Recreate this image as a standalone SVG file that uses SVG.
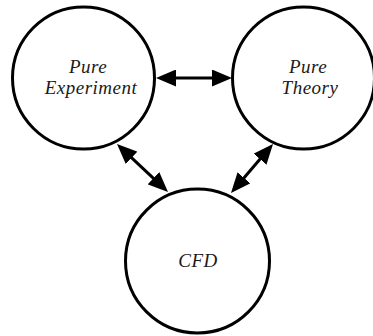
<svg xmlns="http://www.w3.org/2000/svg" width="373" height="336" viewBox="0 0 373 336">
  <style>
    .node circle { fill: #ffffff; stroke: #000000; stroke-width: 3; }
    .node text { font-family: "Liberation Serif", "Times New Roman", serif; font-style: italic; font-size: 19px; fill: #1a1a1a; text-anchor: middle; letter-spacing: 0.5px; }
    .conn line { stroke: #000000; stroke-width: 3; }
  </style>
  <defs>
    <marker id="ah" viewBox="0 0 20 17" markerWidth="20" markerHeight="17" refX="10" refY="8.5" markerUnits="userSpaceOnUse" orient="auto-start-reverse">
      <path d="M0,0 L20,8.5 L0,17 Z" fill="#000000"/>
    </marker>
  </defs>
  <rect width="373" height="336" fill="#ffffff"/>
  <g id="n-experiment" class="node">
    <circle cx="83.5" cy="78" r="71"/>
    <text x="88" y="73">Pure</text>
    <text x="91" y="94">Experiment</text>
  </g>
  <g id="n-theory" class="node">
    <circle cx="303.5" cy="78" r="71"/>
    <text x="308" y="73">Pure</text>
    <text x="310" y="94">Theory</text>
  </g>
  <g id="n-cfd" class="node">
    <circle cx="197.5" cy="261" r="72"/>
    <text x="198" y="267">CFD</text>
  </g>
  <g id="connectors" class="conn">
    <line x1="166" y1="78" x2="222" y2="78" marker-start="url(#ah)" marker-end="url(#ah)"/>
    <line x1="124.3" y1="150.9" x2="160.7" y2="185.1" marker-start="url(#ah)" marker-end="url(#ah)"/>
    <line x1="266.5" y1="151.6" x2="237.5" y2="185.4" marker-start="url(#ah)" marker-end="url(#ah)"/>
  </g>
</svg>
